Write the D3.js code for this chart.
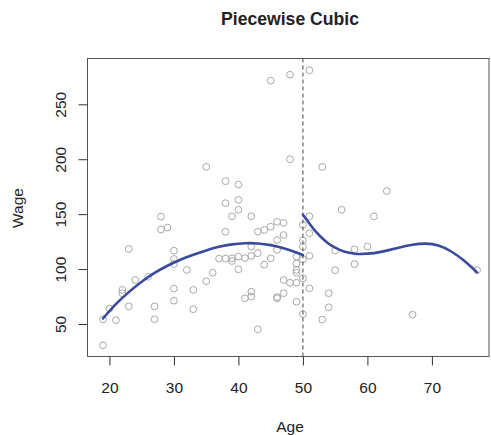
<!DOCTYPE html>
<html>
<head>
<meta charset="utf-8">
<script src="https://cdn.jsdelivr.net/npm/d3@7"></script>
<style>
  html, body { margin: 0; padding: 0; background: #fff; }
  svg { display: block; font-family: "Liberation Sans", Arial, Helvetica, sans-serif; }
</style>
</head>
<body>
<svg id="chart" width="491" height="435"></svg>
<script>
// ---- data ----
const ages  = [35,45,48,51,48,53,38,40,38,40,40,39,42,51,56,63,61,
               58,60,58,77,67,55,55,
               28,28,29,23,30,30,30,32,24,26,22,22,23,20,19,21,19,27,27,30,30,33,33,35,36,37,
               38,43,44,45,46,47,47,46,46,42,43,42,41,40,39,39,38,40,44,45,
               42,42,41,46,46,47,47,48,49,49,50,43,49,49,49,49,
               50,50,50,50,50,51,51,51,54,54,53];
const wages = [193,271.5,277,281,200,193,180,177,160,163,154,148,148,148,154,171,148,
               118,120.5,104.5,99,58.5,99,117,
               147.7,136,137.7,118.3,116.8,109.2,104.6,99.2,90,93,81,78,66,64,54.3,53.4,30.6,66,54.3,82.2,71.2,81,63.4,89,96.7,109.5,
               134,134,135.6,138.6,143,142,131,126.5,117.5,120.4,114.4,112,110,111.3,109.8,107.3,109.5,99.8,104,109.8,
               79.4,75,73.4,74.5,73.5,78,90,87.5,87.5,70.3,59,45.2,105,99.2,96.7,111.3,
               140.2,126,120.4,109,91.6,132.6,112,82.5,78,65.2,54];

// fitted piecewise cubic
const fitLeftAge   = [19,21,23,25,27,29,31,33,35,37,39,41,43,45,47,49,50];
const fitLeftWage  = [55,68,79,88.5,96.5,103,108.5,113,117,120.3,122.5,123.5,123.3,121.8,119,115,112.8];
const fitRightAge  = [50,51,52,53,54,55,56,57,58,59,61,63,65,67,69,71,73,75,77];
const fitRightWage = [149.5,141.5,134,128,123,119.5,116.8,115,114,113.7,114.5,116.8,119.7,122.2,123.2,121.5,116,107.5,97];

const knot = 50;
const xTicks = [20,30,40,50,60,70];
const yTicks = [50,100,150,200,250];

const titleText = "Piecewise Cubic";
const xLabel = "Age";
const yLabel = "Wage";

// ---- layout ----
const L = 87.5, R = 489, T = 58.5, B = 356.5;
const svg = d3.select("#chart");

const x = d3.scaleLinear().domain([16.6, 78.85]).range([L, R]);
const y = d3.scaleLinear().domain([20.4, 291.7]).range([B, T]);

// points
svg.append("g").selectAll("circle")
  .data(ages.map((a, i) => [a, wages[i]]))
  .join("circle")
  .attr("cx", d => x(d[0]))
  .attr("cy", d => y(d[1]))
  .attr("r", 3.4)
  .attr("fill", "none")
  .attr("stroke", "#a8a8a8")
  .attr("stroke-width", 1);

// knot line
svg.append("line")
  .attr("x1", x(knot)).attr("x2", x(knot))
  .attr("y1", T).attr("y2", B)
  .attr("stroke", "#444")
  .attr("stroke-width", 1)
  .attr("stroke-dasharray", "4,3");

// fitted curves
const line = d3.line().x(d => x(d[0])).y(d => y(d[1])).curve(d3.curveNatural);
[[fitLeftAge, fitLeftWage], [fitRightAge, fitRightWage]].forEach(([a, w]) => {
  svg.append("path")
    .attr("d", line(a.map((v, i) => [v, w[i]])))
    .attr("fill", "none")
    .attr("stroke", "#3a4a9c")
    .attr("stroke-width", 2.6)
    .attr("stroke-linecap", "round");
});

// box
svg.append("rect")
  .attr("x", L).attr("y", T).attr("width", R - L).attr("height", B - T)
  .attr("fill", "none").attr("stroke", "#555").attr("stroke-width", 1);

// x axis
const gx = svg.append("g").attr("transform", `translate(0,${B})`)
  .call(d3.axisBottom(x).tickValues(xTicks).tickSize(9).tickSizeOuter(0).tickFormat(d3.format("d")));
gx.select(".domain").remove();
gx.selectAll(".tick line").attr("stroke", "#333");
gx.selectAll(".tick text")
  .attr("y", 36.5).attr("dy", null)
  .attr("fill", "#222")
  .style("font-size", "15.5px");

// y axis
const gy = svg.append("g").attr("transform", `translate(${L},0)`)
  .call(d3.axisLeft(y).tickValues(yTicks).tickSize(9).tickSizeOuter(0).tickFormat(d3.format("d")));
gy.select(".domain").remove();
gy.selectAll(".tick line").attr("stroke", "#333");
gy.selectAll(".tick text")
  .attr("transform", "rotate(-90)")
  .attr("x", 0).attr("y", -21.5).attr("dy", null)
  .attr("text-anchor", "middle")
  .attr("fill", "#222")
  .style("font-size", "15.5px");

// title & labels
svg.append("text")
  .attr("x", 290).attr("y", 25)
  .attr("text-anchor", "middle")
  .attr("font-weight", "bold")
  .attr("font-size", 17.6)
  .attr("fill", "#222")
  .text(titleText);

svg.append("text")
  .attr("x", 290).attr("y", 431.5)
  .attr("text-anchor", "middle")
  .attr("font-size", 15.5)
  .attr("fill", "#222")
  .text(xLabel);

svg.append("text")
  .attr("transform", `translate(23,208) rotate(-90)`)
  .attr("text-anchor", "middle")
  .attr("font-size", 15.5)
  .attr("fill", "#222")
  .text(yLabel);
</script>
</body>
</html>
